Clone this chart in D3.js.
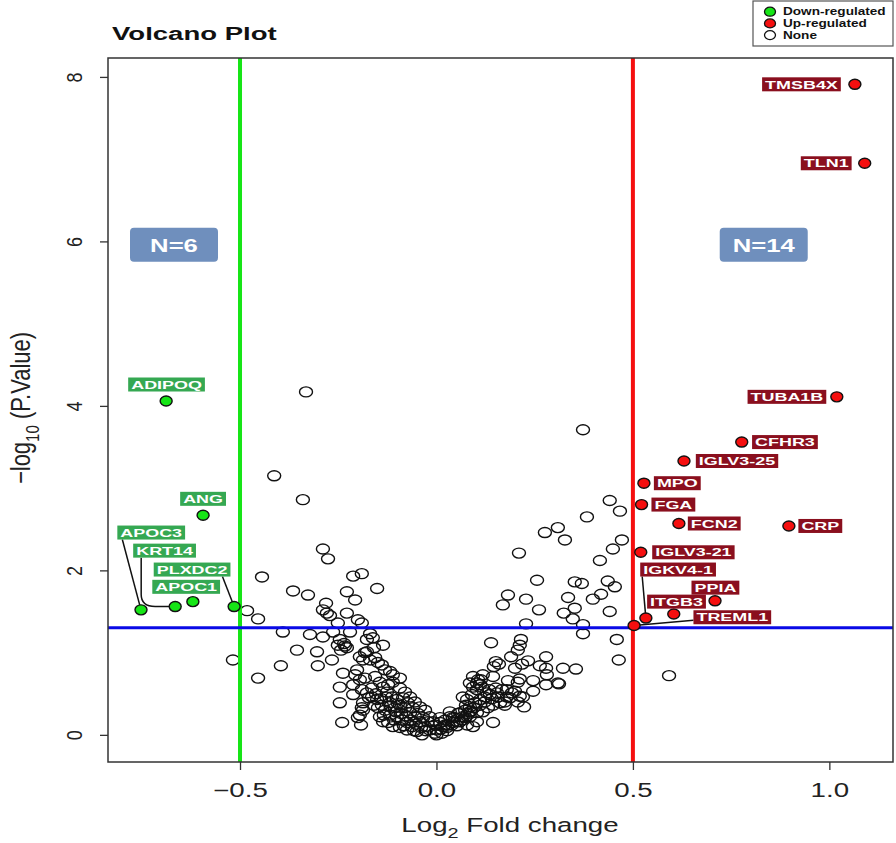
<!DOCTYPE html>
<html><head><meta charset="utf-8">
<script src="https://cdn.jsdelivr.net/npm/d3@7"></script>
<style>body{margin:0;background:#fff}svg{display:block;font-family:"Liberation Sans",Arial,Helvetica,sans-serif}</style>
</head><body><svg id="c" width="896" height="843"></svg>
<script>
// ---- data ----
const downGenes = ["ADIPOQ","ANG","APOC3","KRT14","PLXDC2","APOC1"];
const downX = [-0.688,-0.594,-0.752,-0.665,-0.515,-0.620];
const downY = [4.06,2.67,1.52,1.56,1.56,1.62];
const downLabX = [-0.687,-0.594,-0.726,-0.692,-0.622,-0.637];
const downLabY = [4.26,2.87,2.46,2.24,2.01,1.80];

const upGenes = ["TMSB4X","TLN1","TUBA1B","CFHR3","IGLV3-25","MPO","FGA","FCN2","CRP","IGLV3-21","IGKV4-1","PPIA","ITGB3","TREML1"];
const upX = [1.065,1.090,1.019,0.777,0.630,0.528,0.522,0.617,0.897,0.520,0.533,0.709,0.604,0.503];
const upY = [7.91,6.95,4.11,3.56,3.33,3.06,2.80,2.57,2.54,2.22,1.42,1.63,1.47,1.33];
const upLabX = [0.929,0.992,0.892,0.887,0.765,0.613,0.603,0.707,0.977,0.654,0.615,0.710,0.611,0.753];
const upLabY = [7.91,6.95,4.11,3.56,3.33,3.06,2.80,2.57,2.54,2.22,2.01,1.79,1.62,1.43];

const noneX = [-0.332,-0.413,-0.340,-0.289,-0.276,-0.444,-0.212,-0.190,-0.151,-0.365,-0.327,-0.228,-0.207,-0.281,-0.289,-0.279,-0.271,-0.228,-0.251,-0.200,-0.190,-0.482,-0.454,-0.391,-0.322,-0.289,-0.263,-0.220,-0.169,-0.162,-0.246,-0.235,-0.228,-0.243,-0.233,-0.251,-0.177,-0.136,-0.159,-0.518,-0.355,-0.304,-0.266,-0.396,-0.302,-0.454,-0.177,-0.195,-0.187,-0.238,-0.202,-0.246,-0.246,-0.240,-0.192,-0.195,-0.187,-0.212,-0.177,-0.182,-0.169,-0.156,-0.149,-0.139,-0.131,-0.118,-0.111,-0.093,-0.207,-0.195,-0.182,-0.212,-0.156,-0.144,-0.136,-0.190,-0.164,-0.151,-0.139,-0.187,-0.190,-0.200,-0.126,-0.113,-0.101,-0.093,-0.080,-0.067,-0.055,-0.042,-0.029,-0.017,-0.004,-0.118,-0.106,-0.131,-0.118,-0.101,-0.088,-0.075,-0.062,-0.050,-0.037,-0.144,-0.136,-0.123,-0.111,-0.093,-0.075,-0.123,-0.111,-0.093,-0.080,-0.067,-0.055,-0.042,-0.029,-0.017,-0.009,
-0.164,-0.154,-0.141,-0.128,-0.116,-0.103,-0.090,-0.077,-0.065,-0.052,-0.039,-0.027,-0.149,-0.134,-0.108,-0.083,-0.057,-0.172,-0.159,-0.098,-0.085,-0.073,-0.060,-0.047,-0.034,-0.022,
0.373,0.441,0.467,0.383,0.276,0.309,0.327,0.210,0.472,0.449,0.416,0.256,0.352,0.370,0.436,0.454,0.182,0.169,0.228,0.335,0.352,0.324,0.398,0.419,0.261,0.441,0.347,0.373,0.228,0.373,0.459,0.464,0.592,0.139,0.215,0.212,0.207,0.190,0.151,0.159,0.146,0.279,0.233,0.218,0.200,0.263,0.279,0.322,0.355,0.281,0.309,0.113,0.103,0.093,0.144,0.182,0.212,0.246,0.207,0.279,0.312,0.151,0.246,0.200,0.212,0.179,0.223,0.144,-0.004,0.009,0.022,0.034,0.047,0.060,0.073,0.085,0.098,0.111,0.123,0.136,0.154,0.167,0.179,0.192,0.001,0.017,0.029,0.042,0.060,0.073,0.085,0.103,0.118,0.131,0.144,0.162,0.174,0.067,0.078,0.090,0.103,0.116,0.128,0.093,0.106,0.118,0.111,0.085,0.034,0.085,0.067,0.052,0.103,0.093,0.078,0.009,0.187,0.207,0.220,0.174,0.000,0.014,0.027,
0.027,0.039,0.052,0.065,0.080,0.095,0.111,0.123,0.141,0.055,0.042,0.022,0.011,0.075,0.088,0.156,0.134];
const noneY = [4.17,3.15,2.86,2.26,2.14,1.92,1.93,1.96,1.78,1.75,1.70,1.74,1.64,1.60,1.52,1.48,1.45,1.48,1.36,1.40,1.36,1.51,1.41,1.25,1.22,1.19,1.25,1.25,1.23,1.18,1.16,1.11,1.06,1.03,1.08,1.09,1.16,1.09,1.06,0.91,1.03,1.01,0.91,0.84,0.84,0.69,1.01,0.95,0.91,0.75,0.79,0.58,0.39,0.15,0.12,0.24,0.30,0.49,0.51,1.00,0.91,0.94,0.88,0.85,0.79,0.77,0.73,0.69,0.73,0.67,0.69,0.61,0.71,0.64,0.58,0.55,0.46,0.43,0.36,0.39,0.33,0.21,0.52,0.46,0.43,0.36,0.33,0.27,0.22,0.16,0.10,0.06,0.02,0.39,0.33,0.30,0.24,0.22,0.18,0.15,0.10,0.04,0.00,0.22,0.16,0.15,0.10,0.09,0.06,0.61,0.64,0.57,0.52,0.46,0.40,0.34,0.30,0.22,0.16,
0.57,0.50,0.44,0.46,0.35,0.28,0.26,0.23,0.18,0.13,0.09,0.05,0.33,0.24,0.18,0.11,0.05,0.45,0.36,0.38,0.45,0.39,0.33,0.26,0.21,0.16,
3.71,2.85,2.72,2.65,2.46,2.52,2.37,2.21,2.37,2.26,2.12,1.88,1.86,1.84,1.87,1.80,1.70,1.58,1.65,1.67,1.54,1.48,1.65,1.71,1.52,1.50,1.41,1.34,1.35,1.23,1.16,0.91,0.72,1.12,1.16,1.09,1.03,0.95,0.89,0.86,0.83,0.95,0.90,0.86,0.81,0.84,0.81,0.81,0.80,0.73,0.63,0.67,0.63,0.58,0.71,0.66,0.68,0.66,0.64,0.61,0.62,0.57,0.53,0.53,0.47,0.46,0.34,0.15,0.12,0.15,0.18,0.22,0.21,0.27,0.30,0.34,0.39,0.43,0.46,0.49,0.51,0.55,0.55,0.51,0.06,0.10,0.12,0.15,0.16,0.21,0.22,0.27,0.28,0.33,0.36,0.39,0.40,0.46,0.43,0.49,0.55,0.58,0.51,0.71,0.67,0.73,0.61,0.63,0.28,0.28,0.22,0.16,0.16,0.10,0.12,0.21,0.45,0.40,0.46,0.36,0.00,0.02,0.05,
0.09,0.12,0.11,0.18,0.26,0.33,0.36,0.40,0.44,0.26,0.21,0.12,0.07,0.36,0.29,0.46,0.55];

const xTicks = [-0.5,0.0,0.5,1.0];
const xTickLabels = ["\u22120.5","0.0","0.5","1.0"];
const yTicks = [0,2,4,6,8];
const fcCut = 0.5, pCut = 1.301;
const nDown = "N=6", nUp = "N=14";
const nBoxX = [-0.668, 0.833], nBoxY = 5.96;
const legendItems = ["Down-regulated","Up-regulated","None"];

// ---- layout ----
const svg = d3.select("#c");
const L=108, R=893, T=58, B=762;
const SX = 1.42;          // horizontal glyph stretch of the reference
const x = d3.scaleLinear().domain([-0.836,1.162]).range([L,R]);
const y = d3.scaleLinear().domain([-0.33,8.23]).range([B,T]);
const green="#16e516", red="#f50f0f", blue="#0a0ae6";
const rx=6.5, ry=5;

function sText(g, tx, ty, str, size, opts={}){
  const t = g.append("text").attr("transform",`translate(${tx},${ty}) scale(${opts.sx||SX},1)`)
    .attr("font-size",size).attr("text-anchor",opts.anchor||"start")
    .attr("font-weight",opts.bold?"bold":"normal").attr("fill",opts.fill||"#222");
  if(str!==null) t.text(str);
  return t;
}

// none points
const none = noneX.map((v,i)=>({x:v,y:noneY[i]}));
svg.append("g").selectAll("ellipse").data(none).join("ellipse")
  .attr("cx",d=>x(d.x)).attr("cy",d=>y(d.y)).attr("rx",rx).attr("ry",ry)
  .attr("fill","none").attr("stroke","#111").attr("stroke-width",1.4);

// threshold lines
svg.append("line").attr("x1",x(-fcCut)).attr("x2",x(-fcCut)).attr("y1",T).attr("y2",B).attr("stroke",green).attr("stroke-width",4);
svg.append("line").attr("x1",x(fcCut)).attr("x2",x(fcCut)).attr("y1",T).attr("y2",B).attr("stroke",red).attr("stroke-width",4);
svg.append("line").attr("x1",L).attr("x2",R).attr("y1",y(pCut)).attr("y2",y(pCut)).attr("stroke",blue).attr("stroke-width",3);

// frame
svg.append("rect").attr("x",L).attr("y",T).attr("width",R-L).attr("height",B-T).attr("fill","none").attr("stroke","#333").attr("stroke-width",1.5);

// axes
const xAxis = d3.axisBottom(x).tickValues(xTicks).tickFormat((d,i)=>xTickLabels[i]).tickSize(8).tickPadding(13);
const gx = svg.append("g").attr("transform",`translate(0,${B})`).call(xAxis);
gx.select(".domain").remove();
gx.selectAll("line").attr("stroke","#333").attr("stroke-width",1.3);
gx.selectAll("text").attr("font-size",19.5).attr("fill","#222").attr("font-family","Liberation Sans, Arial")
  .attr("transform",`scale(${SX},1)`);

const yAxis = d3.axisLeft(y).tickValues(yTicks).tickFormat(d3.format("d")).tickSize(8).tickPadding(0);
const gy = svg.append("g").attr("transform",`translate(${L},0)`).call(yAxis);
gy.select(".domain").remove();
gy.selectAll("line").attr("stroke","#333").attr("stroke-width",1.3);
gy.selectAll("text").attr("font-size",18).attr("fill","#222").attr("font-family","Liberation Sans, Arial")
  .attr("text-anchor","middle").attr("x",0).attr("y",0).attr("dy",0)
  .attr("transform","translate(-26,0) rotate(-90) scale(1,1.2)");

// titles
sText(svg,112,40,"Volcano Plot",19,{bold:true,fill:"#111",sx:1.45});
const xt = sText(svg,510,832,null,19.5,{anchor:"middle"});
xt.append("tspan").text("Log");
xt.append("tspan").attr("font-size",14).attr("dy",6).text("2");
xt.append("tspan").attr("dy",-6).text(" Fold change");
const yt = svg.append("text").attr("transform","translate(30,408) rotate(-90) scale(1,1.25)").attr("text-anchor","middle").attr("font-size",22).attr("fill","#222");
yt.append("tspan").text("\u2212log");
yt.append("tspan").attr("font-size",15).attr("dy",7).text("10");
yt.append("tspan").attr("dy",-7).text(" (P.Value)");

// N boxes
[nDown,nUp].forEach((t,i)=>{
  const cx=x(nBoxX[i]), cy=y(nBoxY);
  svg.append("rect").attr("x",cx-44).attr("y",cy-17).attr("width",88).attr("height",34).attr("rx",4).attr("fill","#6f8fbd");
  sText(svg,cx,cy+7,t,19,{bold:true,fill:"#fff",anchor:"middle",sx:1.35});
});

// gene points + labels
const down = downGenes.map((g,i)=>({g,x:downX[i],y:downY[i],lx:downLabX[i],ly:downLabY[i],fill:green,box:"#35a852"}));
const up = upGenes.map((g,i)=>({g,x:upX[i],y:upY[i],lx:upLabX[i],ly:upLabY[i],fill:red,box:"#8a0f1e"}));
const genes = down.concat(up);

const lblG = svg.append("g");
const boxes = {};
const LSX = 1.52, BH = 14;
genes.forEach(d=>{
  const cx=x(d.lx), cy=y(d.ly);
  const t = sText(lblG,cx,cy+4.2,d.g,11.8,{bold:true,fill:"#fff",anchor:"middle",sx:LSX});
  const w = t.node().getComputedTextLength()*LSX+6;
  const bx = cx-w/2, by=cy-BH/2;
  boxes[d.g]={x:bx,y:by,w:w,h:BH};
  lblG.insert("rect","text").attr("x",bx).attr("y",by).attr("width",w).attr("height",BH).attr("fill",d.box);
});
// connectors
const links = [["APOC3","bl",5],["KRT14","bl-elbow",8],["PLXDC2","br",-8],["IGKV4-1","bl",2],["TREML1","l",0]];
const linkG = svg.append("g");
links.forEach(([g,side,off])=>{
  const d = genes.find(e=>e.g===g), b=boxes[g];
  const px=x(d.x), py=y(d.y);
  let p;
  if(side==="bl") p=`M${b.x+off},${b.y+b.h} L${px},${py}`;
  else if(side==="br") p=`M${b.x+b.w+off},${b.y+b.h} L${px},${py}`;
  else if(side==="l") p=`M${b.x},${b.y+b.h/2+3} L${px},${py}`;
  else { const sx=b.x+off; p=`M${sx},${b.y+b.h} L${sx},${py-12} Q${sx},${py} ${sx+14},${py} L${px},${py}`; }
  linkG.append("path").attr("d",p).attr("fill","none").attr("stroke","#111").attr("stroke-width",1.5);
});
svg.append("g").selectAll("ellipse").data(genes).join("ellipse")
  .attr("cx",d=>x(d.x)).attr("cy",d=>y(d.y)).attr("rx",6).attr("ry",5)
  .attr("fill",d=>d.fill).attr("stroke","#111").attr("stroke-width",1.4);
svg.node().appendChild(lblG.node());

// legend
const lg = svg.append("g");
lg.append("rect").attr("x",753).attr("y",1).attr("width",140).attr("height",45).attr("fill","#fff").attr("stroke","#555").attr("stroke-width",1.2);
const lFill=[green,red,"none"];
legendItems.forEach((t,i)=>{
  const cy = 11.7+i*11.7;
  lg.append("ellipse").attr("cx",770).attr("cy",cy).attr("rx",5.5).attr("ry",4.5).attr("fill",lFill[i]).attr("stroke","#111").attr("stroke-width",1.3);
  sText(lg,783,cy+3.6,t,10,{bold:true,fill:"#111",sx:1.36});
});
</script></body></html>
